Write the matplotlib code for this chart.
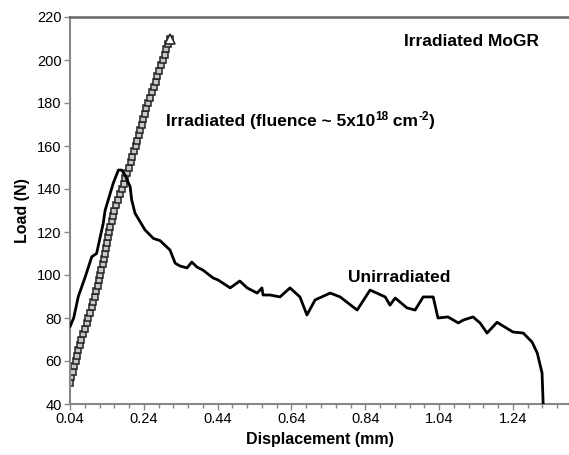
import numpy as np
import matplotlib.pyplot as plt
from matplotlib.ticker import MultipleLocator, FixedLocator

# irradiated sample: displacement (mm) and load (N), read point by point
irr_disp = [0.040, 0.044, 0.048, 0.051, 0.055, 0.059, 0.063, 0.067, 0.071, 0.076,
            0.080, 0.085, 0.090, 0.094, 0.099, 0.103, 0.108, 0.111, 0.115, 0.118,
            0.122, 0.125, 0.129, 0.132, 0.135, 0.138, 0.140, 0.143, 0.146, 0.149,
            0.153, 0.156, 0.160, 0.165, 0.170, 0.175, 0.180, 0.185, 0.190, 0.195,
            0.200, 0.205, 0.209, 0.214, 0.218, 0.222, 0.226, 0.231, 0.235, 0.239,
            0.243, 0.247, 0.252, 0.257, 0.262, 0.267, 0.272, 0.277, 0.282, 0.287,
            0.292, 0.297, 0.301, 0.306, 0.310]
irr_load = [50.0, 52.5, 55.0, 57.5, 60.0, 62.5, 65.0, 67.5, 70.0, 72.5,
            75.0, 77.5, 80.0, 82.5, 85.0, 87.5, 90.0, 92.5, 95.0, 97.5,
            100.0, 102.5, 105.0, 107.5, 110.0, 112.5, 115.0, 117.5, 120.0, 122.5,
            125.0, 127.5, 130.0, 132.5, 135.0, 137.5, 140.0, 142.5, 145.0, 147.5,
            150.0, 152.5, 155.0, 157.5, 160.0, 162.5, 165.0, 167.5, 170.0, 172.5,
            175.0, 177.5, 180.0, 182.5, 185.0, 187.5, 190.0, 192.5, 195.0, 197.5,
            200.0, 202.5, 205.0, 207.5, 210.0]

# unirradiated sample
unirr_disp = [0.040, 0.050, 0.0625, 0.081, 0.099, 0.112, 0.130, 0.135, 0.157, 0.171,
              0.180, 0.189, 0.203, 0.207, 0.216, 0.243, 0.266, 0.284, 0.311, 0.325,
              0.338, 0.357, 0.370, 0.384, 0.400, 0.428, 0.441, 0.474, 0.500, 0.520,
              0.547, 0.560, 0.563, 0.582, 0.609, 0.636, 0.663, 0.682, 0.704, 0.745,
              0.772, 0.818, 0.853, 0.894, 0.907, 0.921, 0.953, 0.975, 0.997, 1.024,
              1.037, 1.064, 1.092, 1.105, 1.132, 1.151, 1.170, 1.197, 1.240, 1.268,
              1.292, 1.306, 1.319, 1.322]
unirr_load = [76.0, 80.0, 90.0, 99.0, 108.5, 110.0, 124.0, 130.0, 142.6, 148.8,
              148.8, 146.5, 141.0, 135.0, 128.8, 121.0, 117.0, 116.0, 111.6, 105.5,
              104.2, 103.3, 106.0, 103.7, 102.3, 98.6, 97.7, 94.0, 97.2, 94.0,
              91.6, 94.0, 90.7, 90.7, 89.8, 94.0, 89.8, 81.4, 88.4, 91.6,
              89.8, 83.7, 93.0, 89.8, 86.0, 89.3, 84.7, 83.7, 89.8, 89.8,
              80.0, 80.5, 77.7, 79.0, 80.5, 77.7, 73.0, 78.0, 73.5, 73.0,
              68.8, 63.7, 54.4, 40.0]

x_ticks = [0.04, 0.24, 0.44, 0.64, 0.84, 1.04, 1.24]
y_ticks = [40, 60, 80, 100, 120, 140, 160, 180, 200, 220]

plt.rcParams['font.family'] = ['Liberation Sans', 'DejaVu Sans']

fig = plt.figure(figsize=(5.69, 4.55), dpi=100)
ax = fig.add_axes([70 / 569, 51 / 455, 1 - 70 / 569, 387 / 455])

ax.plot(unirr_disp, unirr_load, color='black', lw=2.0, solid_joinstyle='round', zorder=3)
ax.plot(irr_disp, irr_load, color='#222222', lw=1.0, marker='s', ms=4.8,
        mfc='#c8c8c8', mec='#222222', mew=1.1, zorder=2)
ax.plot(irr_disp[-1], irr_load[-1], marker='^', ms=6.5, mfc='white', mec='#2a2a2a',
        mew=1.2, zorder=4)

ax.set_xlim(0.04, 1.392)
ax.set_ylim(40, 220)
ax.xaxis.set_major_locator(FixedLocator(x_ticks))
ax.xaxis.set_minor_locator(MultipleLocator(0.04, offset=0.04))
ax.yaxis.set_major_locator(FixedLocator(y_ticks))
ax.set_xticklabels([f'{v:.2f}' for v in x_ticks])

ax.tick_params(axis='both', which='both', direction='out', color='#888888',
               labelsize=10.5, pad=2)
ax.tick_params(axis='x', which='major', length=4, width=1)
ax.tick_params(axis='x', which='minor', length=3, width=1)
ax.tick_params(axis='y', which='major', length=4, width=1)

for side in ['left', 'bottom']:
    ax.spines[side].set_color('#888888')
    ax.spines[side].set_linewidth(1.5)
ax.spines['top'].set_color('#666666')
ax.spines['top'].set_linewidth(1.8)
ax.spines['right'].set_visible(False)

ax.set_xlabel('Displacement (mm)', fontsize=11.5, fontweight='bold', labelpad=4)
ax.set_ylabel('Load (N)', fontsize=11.5, fontweight='bold', labelpad=5)

ax.text(0.945, 208.5, 'Irradiated MoGR', fontsize=12.5, fontweight='bold',
        ha='left', va='center')

# label with superscripts built from separate pieces
t1 = ax.text(0.300, 169.3, 'Irradiated (fluence ~ 5x10', fontsize=12.5,
             fontweight='bold', ha='left', va='baseline')
t2 = ax.annotate('18', xy=(1, 0.62), xycoords=t1, fontsize=8.5,
                 fontweight='bold', ha='left', va='baseline')
t3 = ax.annotate(' cm', xy=(1, 0), xycoords=(t2, t1), fontsize=12.5,
                 fontweight='bold', ha='left', va='bottom')
t4 = ax.annotate('-2', xy=(1, 0.62), xycoords=(t3, t1), fontsize=8.5,
                 fontweight='bold', ha='left', va='baseline')
ax.annotate(')', xy=(1, 0), xycoords=(t4, t1), fontsize=12.5,
            fontweight='bold', ha='left', va='bottom')

ax.text(0.793, 99.0, 'Unirradiated', fontsize=12.5,
        fontweight='bold', ha='left', va='center')

fig.savefig('out.png', dpi=100)
